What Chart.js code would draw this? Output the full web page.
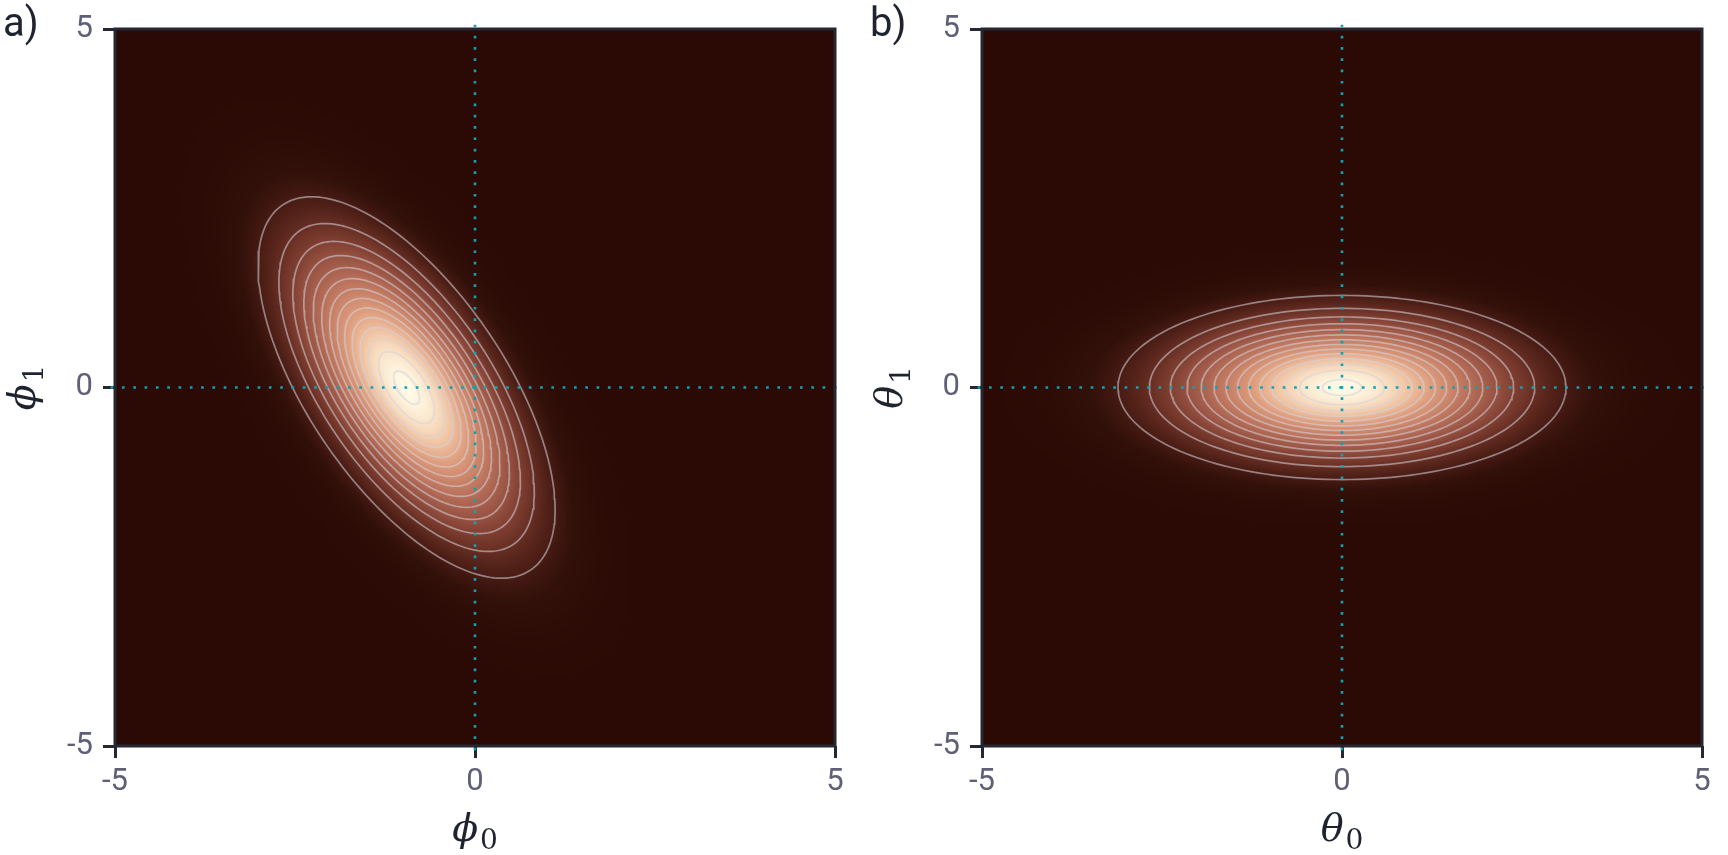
<!DOCTYPE html>
<html>
<head>
<meta charset="utf-8">
<script src="https://cdn.jsdelivr.net/npm/chart.js@4.4.1/dist/chart.umd.min.js"></script>
<style>
  html, body { margin: 0; padding: 0; background: #fff; width: 1728px; height: 855px; overflow: hidden; }
  .panel { position: absolute; top: 0; width: 861px; height: 855px; }
  #panelA { left: 0; }
  #panelB { left: 867px; }
</style>
</head>
<body>
<div class="panel" id="panelA"><canvas id="chartA" width="861" height="855"></canvas></div>
<div class="panel" id="panelB"><canvas id="chartB" width="861" height="855"></canvas></div>
<script>
// values
const axisRange = [-5, 5];
const tickValues = [-5, 0, 5];
const panelLabels = ['a)', 'b)'];
const titleSymbols = ['ϕ', 'θ'];
const xTitleSub = ['0', '0'];
const yTitleSub = ['1', '1'];
const meanA = [-0.95, 0.0];
const covA = [[0.80, -0.66], [-0.66, 1.33]];
const meanB = [0.0, 0.0];
const covB = [[1.82, 0.0], [0.0, 0.31]];
// contour levels as a fraction of the peak density
const contourLevels = [0.07, 0.14, 0.21, 0.28, 0.35, 0.42, 0.49, 0.56, 0.63, 0.70, 0.77, 0.84, 0.91, 0.98];

// colour map (dark brown -> cream)
const cmapPos = [0, 0.035, 0.078, 0.161, 0.289, 0.462, 0.663, 0.837, 1];
const cmapHex = ['#2b0a05', '#33110b', '#4c1e16', '#703428', '#9a5444', '#c07860', '#e0a080', '#f5d0b0', '#fffae6'];
const cmapRgb = cmapHex.map(h => [1, 3, 5].map(i => parseInt(h.substr(i, 2), 16)));

const INK = '#252833';
const TITLE_INK = '#1f2330';
const TICK_TXT = '#5f5f78';
const CONTOUR = 'rgba(212,210,220,0.56)';
const CYAN = '#0fa3b1';

function cmap(t) {
  t = Math.max(0, Math.min(1, t));
  let k = 1;
  while (k < cmapPos.length - 1 && t > cmapPos[k]) k++;
  const f = (t - cmapPos[k - 1]) / (cmapPos[k] - cmapPos[k - 1]);
  const a = cmapRgb[k - 1], b = cmapRgb[k];
  return [0, 1, 2].map(i => Math.round(a[i] + (b[i] - a[i]) * f));
}

function invert(c) {
  const det = c[0][0] * c[1][1] - c[0][1] * c[1][0];
  return [[c[1][1] / det, -c[0][1] / det], [-c[1][0] / det, c[0][0] / det]];
}

function ellipsePoints(mean, cov, level) {
  const r = Math.sqrt(-2 * Math.log(level));
  const l11 = Math.sqrt(cov[0][0]);
  const l21 = cov[1][0] / l11;
  const l22 = Math.sqrt(cov[1][1] - l21 * l21);
  const pts = [];
  for (let i = 0; i <= 180; i++) {
    const t = 2 * Math.PI * i / 180;
    const u = Math.cos(t), v = Math.sin(t);
    pts.push({ x: mean[0] + r * l11 * u, y: mean[1] + r * (l21 * u + l22 * v) });
  }
  return pts;
}

function heatmapPlugin(mean, cov) {
  return {
    id: 'heatmap',
    beforeDatasetsDraw(chart) {
      const { ctx, scales: { x, y } } = chart;
      const n = 360;
      const step = (axisRange[1] - axisRange[0]) / n;
      const inv = invert(cov);
      const off = document.createElement('canvas');
      off.width = n; off.height = n;
      const octx = off.getContext('2d');
      const img = octx.createImageData(n, n);
      for (let j = 0; j < n; j++) {
        const vy = axisRange[1] - (j + 0.5) * step - mean[1];
        for (let i = 0; i < n; i++) {
          const vx = axisRange[0] + (i + 0.5) * step - mean[0];
          const d2 = inv[0][0] * vx * vx + 2 * inv[0][1] * vx * vy + inv[1][1] * vy * vy;
          const c = cmap(Math.exp(-0.5 * d2));
          const p = (j * n + i) * 4;
          img.data[p] = c[0]; img.data[p + 1] = c[1]; img.data[p + 2] = c[2]; img.data[p + 3] = 255;
        }
      }
      octx.putImageData(img, 0, 0);
      const left = x.getPixelForValue(axisRange[0]);
      const right = x.getPixelForValue(axisRange[1]);
      const top = y.getPixelForValue(axisRange[1]);
      const bottom = y.getPixelForValue(axisRange[0]);
      ctx.save();
      ctx.imageSmoothingEnabled = true;
      ctx.drawImage(off, left, top, right - left, bottom - top);
      ctx.restore();
    }
  };
}

// symbol in italic, subscript upright and lowered
function drawMathLabel(ctx, sym, sub, cx, baseline) {
  const symFont = 'italic 38px "DejaVu Serif"';
  const subFont = '28px "DejaVu Serif"';
  ctx.font = symFont;
  const w1 = ctx.measureText(sym).width;
  ctx.font = subFont;
  const w2 = ctx.measureText(sub).width;
  const gap = 2;
  const x0 = cx - (w1 + gap + w2) / 2;
  ctx.textAlign = 'left';
  ctx.textBaseline = 'alphabetic';
  ctx.font = symFont;
  ctx.fillText(sym, x0, baseline);
  ctx.font = subFont;
  ctx.fillText(sub, x0 + w1 + gap, baseline + 8);
}

function framePlugin(idx) {
  return {
    id: 'frame',
    afterDraw(chart) {
      const { ctx, chartArea: a } = chart;
      ctx.save();
      ctx.strokeStyle = INK;
      ctx.lineWidth = 3;
      ctx.strokeRect(a.left, a.top, a.right - a.left, a.bottom - a.top);
      ctx.fillStyle = TITLE_INK;
      ctx.font = '40px Roboto';
      ctx.textBaseline = 'alphabetic';
      ctx.textAlign = 'left';
      ctx.fillText(panelLabels[idx], 3, 36);
      // axis titles
      const midX = (a.left + a.right) / 2;
      const midY = (a.top + a.bottom) / 2;
      drawMathLabel(ctx, titleSymbols[idx], xTitleSub[idx], midX, 841);
      ctx.translate(35, midY);
      ctx.rotate(-Math.PI / 2);
      drawMathLabel(ctx, titleSymbols[idx], yTitleSub[idx], 0, 0);
      ctx.restore();
    }
  };
}

function makeChart(id, idx, mean, cov) {
  const datasets = [
    { data: [{ x: 0, y: -5.06 }, { x: 0, y: 5.06 }], borderColor: CYAN, borderWidth: 2.6, borderDash: [2.7, 8.6], clip: 6 },
    { data: [{ x: -5.06, y: 0 }, { x: 5.06, y: 0 }], borderColor: CYAN, borderWidth: 2.6, borderDash: [2.7, 8.6], clip: 6 }
  ];
  contourLevels.forEach(lv => {
    datasets.push({ data: ellipsePoints(mean, cov, lv), borderColor: CONTOUR, borderWidth: 1.7 });
  });
  datasets.forEach(d => { d.showLine = true; d.pointRadius = 0; d.fill = false; d.tension = 0; });

  const tickFont = { family: 'Roboto', size: 31 };
  const grid = { display: true, drawOnChartArea: false, drawTicks: true, tickLength: 12, tickWidth: 3, tickColor: INK };

  return new Chart(document.getElementById(id), {
    type: 'scatter',
    data: { datasets },
    options: {
      responsive: false,
      devicePixelRatio: 1,
      animation: false,
      events: [],
      layout: { padding: { left: 0, top: 29, right: 26, bottom: 0 } },
      plugins: { legend: { display: false }, tooltip: { enabled: false } },
      scales: {
        x: {
          type: 'linear', min: axisRange[0], max: axisRange[1],
          grid, border: { display: false },
          afterBuildTicks: s => { s.ticks = tickValues.map(v => ({ value: v })); },
          afterFit: s => { s.height = 109; },
          ticks: { font: tickFont, color: TICK_TXT, padding: 6, maxRotation: 0 }
        },
        y: {
          type: 'linear', min: axisRange[0], max: axisRange[1],
          grid, border: { display: false },
          afterBuildTicks: s => { s.ticks = tickValues.map(v => ({ value: v })); },
          afterFit: s => { s.width = 115; },
          ticks: { font: tickFont, color: TICK_TXT, padding: 10 }
        }
      }
    },
    plugins: [heatmapPlugin(mean, cov), framePlugin(idx)]
  });
}

makeChart('chartA', 0, meanA, covA);
makeChart('chartB', 1, meanB, covB);
</script>
</body>
</html>
